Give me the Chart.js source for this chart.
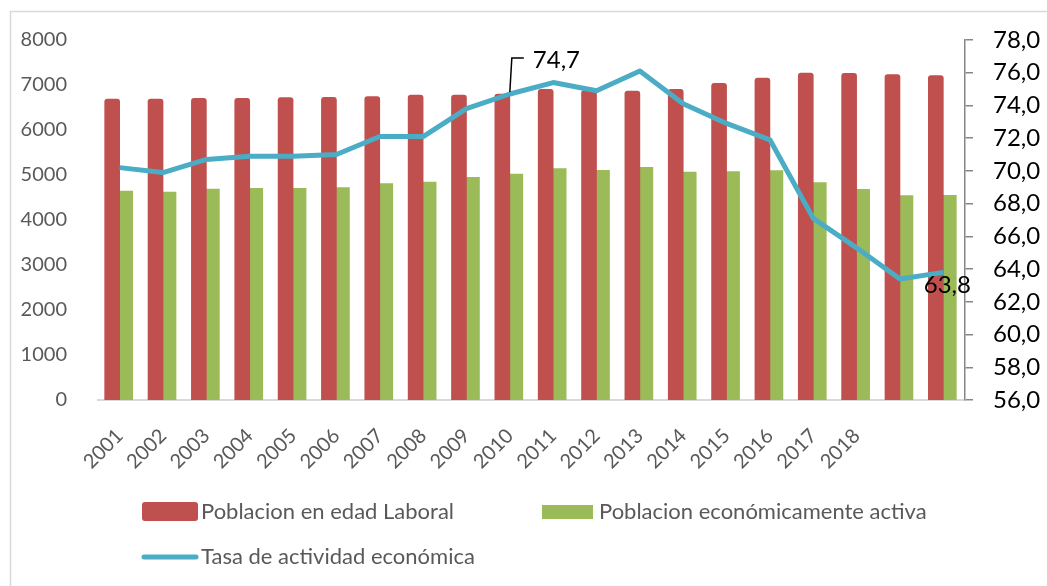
<!DOCTYPE html>
<html>
<head>
<meta charset="utf-8">
<script src="https://cdn.jsdelivr.net/npm/chart.js@4.4.1/dist/chart.umd.min.js"></script>
<style>
  html, body { margin: 0; padding: 0; background: #fff; }
  #wrap { position: relative; width: 1047px; height: 586px; }
</style>
</head>
<body>
<div id="wrap"><canvas id="grafico"></canvas></div>
<script>
// categorias (las dos ultimas sin etiqueta, como en el original)
const anios = ['2001', '2002', '2003', '2004', '2005', '2006', '2007', '2008', '2009', '2010',
  '2011', '2012', '2013', '2014', '2015', '2016', '2017', '2018', '', ''];

const poblacionEdadLaboral = [6689, 6689, 6704, 6704, 6718, 6726, 6741, 6778, 6778, 6800,
  6904, 6880, 6867, 6904, 7037, 7156, 7267, 7259, 7230, 7207];

const poblacionActiva = [4644, 4622, 4689, 4704, 4704, 4719, 4807, 4844, 4948, 5022,
  5141, 5104, 5170, 5067, 5074, 5096, 4830, 4681, 4541, 4548];

const tasaActividad = [70.2, 69.9, 70.7, 70.9, 70.9, 71.0, 72.1, 72.1, 73.8, 74.7,
  75.4, 74.9, 76.1, 74.1, 72.9, 71.9, 67.1, 65.3, 63.4, 63.8];

// ejes
const ejeIzq = { min: 0, max: 8000, paso: 1000 };
const ejeDer = { min: 56, max: 78, paso: 2 };

// puntos de la linea que llevan etiqueta de valor
const etiquetasTasa = [9, 19];

const ROJO = '#C0504D';
const VERDE = '#9BBB59';
const AZUL = '#4BACC6';
const GRIS = '#595959';
const FUENTE = 'Lato, "Open Sans", sans-serif';

const coma = (v) => v.toFixed(1).replace('.', ',');

// marco, etiquetas de datos y leyenda dibujados a mano
const extras = {
  id: 'extras',
  beforeDraw(chart) {
    const ctx = chart.ctx;
    ctx.save();
    ctx.fillStyle = '#fff';
    ctx.fillRect(0, 0, chart.width, chart.height);
    ctx.strokeStyle = '#d9d9d9';
    ctx.lineWidth = 1.5;
    ctx.strokeRect(10.5, 11.5, chart.width + 20, chart.height + 20);
    ctx.restore();
  },
  afterDatasetsDraw(chart) {
    const ctx = chart.ctx;
    const meta = chart.getDatasetMeta(2);
    ctx.save();
    ctx.fillStyle = '#000';
    ctx.font = '24px ' + FUENTE;
    ctx.textBaseline = 'middle';
    etiquetasTasa.forEach((i) => {
      const p = meta.data[i];
      const txt = coma(tasaActividad[i]);
      if (i === 9) {
        ctx.strokeStyle = '#000';
        ctx.lineWidth = 1.5;
        ctx.beginPath();
        ctx.moveTo(p.x, p.y - 2);
        ctx.lineTo(p.x + 2, p.y - 36);
        ctx.lineTo(p.x + 14, p.y - 36);
        ctx.stroke();
        ctx.textAlign = 'left';
        ctx.fillText(txt, p.x + 23, p.y - 34);
      } else {
        ctx.textAlign = 'center';
        ctx.fillText(txt, p.x + 4, p.y + 13);
      }
    });
    ctx.restore();
  },
  afterDraw(chart) {
    const ctx = chart.ctx;
    const ds = chart.data.datasets;
    ctx.save();
    ctx.font = '22px ' + FUENTE;
    ctx.fillStyle = GRIS;
    ctx.textBaseline = 'middle';
    ctx.textAlign = 'left';
    // fila 1
    ctx.fillStyle = ds[0].backgroundColor;
    ctx.beginPath();
    ctx.roundRect(142, 502, 56, 19, 3);
    ctx.fill();
    ctx.fillStyle = GRIS;
    ctx.fillText(ds[0].label, 201, 512);
    ctx.fillStyle = ds[1].backgroundColor;
    ctx.fillRect(542, 505, 51, 14);
    ctx.fillStyle = GRIS;
    ctx.fillText(ds[1].label, 599, 512);
    // fila 2
    ctx.strokeStyle = ds[2].borderColor;
    ctx.lineWidth = 5;
    ctx.lineCap = 'round';
    ctx.beginPath();
    ctx.moveTo(144, 557);
    ctx.lineTo(196, 557);
    ctx.stroke();
    ctx.fillText(ds[2].label, 201, 557);
    ctx.restore();
  }
};

const ctx = document.getElementById('grafico').getContext('2d');

new Chart(ctx, {
  type: 'bar',
  data: {
    labels: anios,
    datasets: [
      {
        label: 'Poblacion en edad Laboral',
        data: poblacionEdadLaboral,
        backgroundColor: ROJO,
        barThickness: 15,
        borderRadius: { topLeft: 3, topRight: 3 },
        borderSkipped: 'bottom',
        yAxisID: 'y',
        order: 1,
      },
      {
        label: 'Poblacion económicamente activa',
        data: poblacionActiva,
        backgroundColor: VERDE,
        barThickness: 13,
        yAxisID: 'y',
        order: 1,
      },
      {
        type: 'line',
        label: 'Tasa de actividad económica',
        data: tasaActividad,
        borderColor: AZUL,
        backgroundColor: AZUL,
        borderWidth: 5,
        pointRadius: 0,
        tension: 0,
        borderJoinStyle: 'round',
        yAxisID: 'y1',
        order: 0,
      },
    ],
  },
  options: {
    responsive: true,
    maintainAspectRatio: false,
    animation: false,
    layout: { padding: { top: 40, left: 0, right: 0, bottom: 0 } },
    plugins: {
      legend: { display: false },
      tooltip: { enabled: false },
    },
    scales: {
      x: {
        offset: true,
        grid: { display: false },
        border: { display: true, color: '#d9d9d9', width: 2 },
        ticks: {
          color: GRIS,
          font: { family: FUENTE, size: 20 },
          maxRotation: 45,
          minRotation: 45,
          autoSkip: false,
          padding: 16,
        },
        afterFit: (scale) => { scale.height = 186; },
      },
      y: {
        position: 'left',
        min: ejeIzq.min,
        max: ejeIzq.max,
        grid: { display: false },
        border: { display: false },
        ticks: {
          stepSize: ejeIzq.paso,
          color: GRIS,
          font: { family: FUENTE, size: 20 },
          padding: 23,
          callback: (v) => String(v),
        },
        afterFit: (scale) => { scale.width = 98; },
      },
      y1: {
        position: 'right',
        min: ejeDer.min,
        max: ejeDer.max,
        grid: {
          display: true,
          drawOnChartArea: false,
          drawTicks: true,
          tickLength: 8,
          color: '#868686',
          lineWidth: 1.5,
        },
        border: { display: true, color: '#868686', width: 1.5 },
        ticks: {
          stepSize: ejeDer.paso,
          color: '#000',
          font: { family: FUENTE, size: 24 },
          padding: 20,
          callback: (v) => coma(v),
        },
        afterFit: (scale) => { scale.width = 82; },
      },
    },
  },
  plugins: [extras],
});
</script>
</body>
</html>
